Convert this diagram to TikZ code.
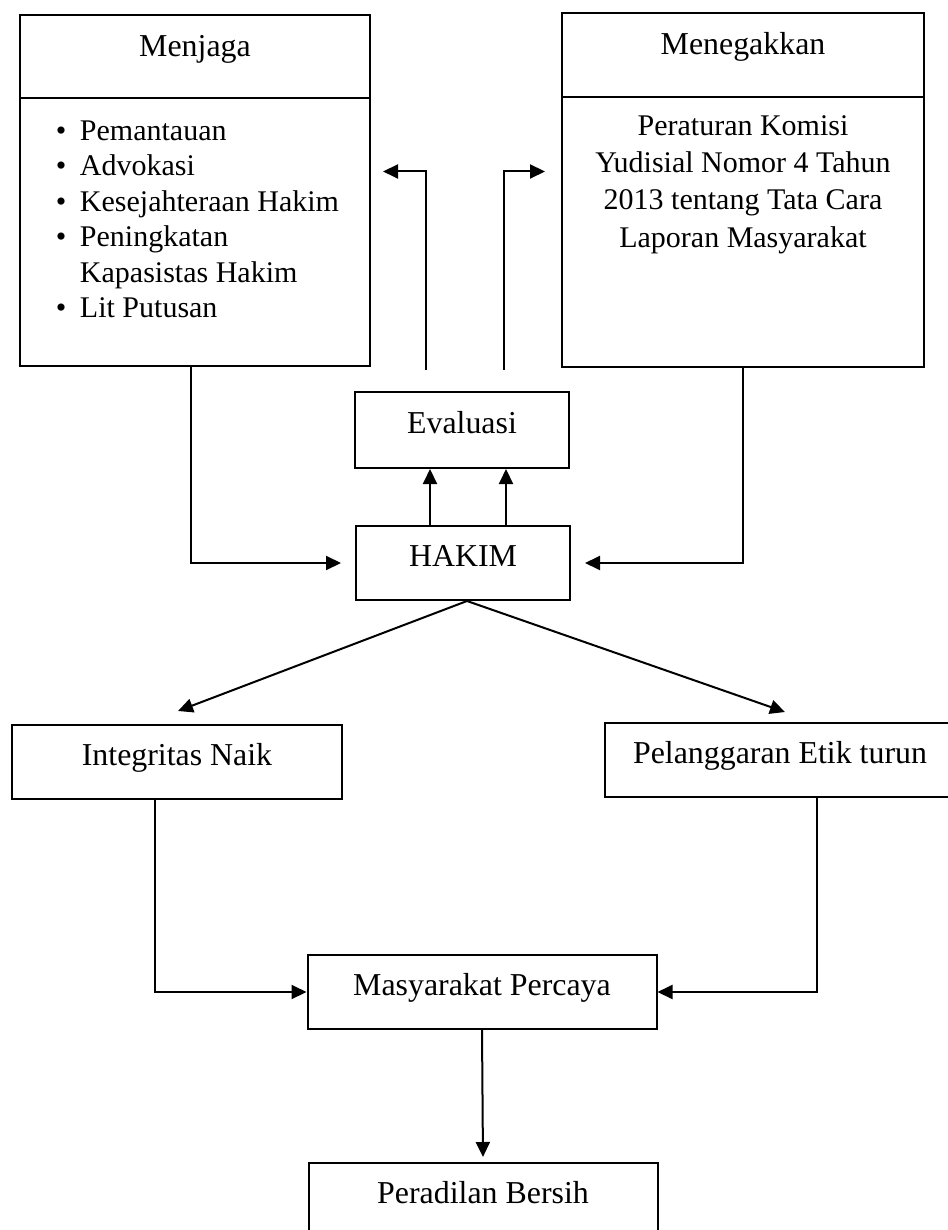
\documentclass[tikz,border=0pt]{standalone}
\usepackage{fontspec}
\setmainfont{Liberation Serif}
\usepackage{tikz}
\usetikzlibrary{arrows.meta,positioning,calc}
\newcommand{\butir}[1]{\hspace*{14.4pt}\makebox[9.6pt][l]{\textbullet}#1}

\tikzset{
  kotak/.style={draw,line width=0.8pt,inner sep=0pt,text height=8.6pt,text depth=6pt,
    font=\fontsize{12.75}{15}\selectfont},
  judul/.style={kotak,text height=6pt,text depth=6pt},
  panah/.style={-{Triangle[length=6pt,width=5.6pt]},line width=0.8pt},
}

\begin{document}
\begin{tikzpicture}[x=0.4pt,y=-0.4pt]
  \useasboundingbox (0,0) rectangle (947,1230);

  % Menjaga
  \node[judul,minimum width=140pt,minimum height=33.2pt] (jagajudul) at (195,56.5) {Menjaga};
  \node[kotak,minimum width=140pt,minimum height=107.2pt,
        text height=17pt,text depth=90.2pt] (jagaisi) at (195,232)
    {\parbox[t]{140pt}{\raggedright\fontsize{12}{14.16}\selectfont
      \butir{Pemantauan}\\
      \butir{Advokasi}\\
      \butir{Kesejahteraan Hakim}\\
      \butir{Peningkatan}\\
      \hspace*{24pt}Kapasistas Hakim\\
      \butir{Lit Putusan}}};

  % Menegakkan
  \node[judul,minimum width=144.8pt,minimum height=33.6pt] (tegakjudul) at (743,55) {Menegakkan};
  \node[kotak,minimum width=144.8pt,minimum height=108pt,
        text height=15.4pt,text depth=92.6pt] (tegakisi) at (743,232)
    {\parbox[t]{144.8pt}{\centering\fontsize{12}{14.9}\selectfont
      Peraturan Komisi\\
      Yudisial Nomor 4 Tahun\\
      2013 tentang Tata Cara\\
      Laporan Masyarakat}};

  % tengah
  \node[kotak,minimum width=85.6pt,minimum height=30.4pt] (evaluasi) at (462,430) {Evaluasi};
  \node[kotak,minimum width=85.6pt,minimum height=29.6pt] (hakim) at (463,563) {HAKIM};

  % hasil
  \node[kotak,minimum width=132pt,minimum height=29.6pt] (integritas) at (177,762) {Integritas Naik};
  \node[kotak,minimum width=140pt,minimum height=29.6pt] (langgar) at (780,760) {Pelanggaran Etik turun};
  \node[kotak,minimum width=139.6pt,minimum height=29.6pt] (percaya) at (482,992) {Masyarakat Percaya};
  \node[kotak,minimum width=139.6pt,minimum height=29.6pt] (bersih) at (483,1200) {Peradilan Bersih};

  % umpan balik dari evaluasi
  \coordinate (pangkalkiri) at (426,370);
  \coordinate (ujungkiri) at (383,171.5);
  \coordinate (pangkalkanan) at (504,370);
  \coordinate (ujungkanan) at (545,171.5);
  \draw[panah] (pangkalkiri) |- (ujungkiri);
  \draw[panah] (pangkalkanan) |- (ujungkanan);

  % ke HAKIM
  \draw[panah,shorten >=5.6pt] ([xshift=-1.6pt]jagaisi.south) |- (hakim.west);
  \draw[panah,shorten >=5.6pt] (tegakisi.south) |- (hakim.east);
  \draw[panah] ([xshift=-13.2pt]hakim.north) -- ([xshift=-13.2pt]hakim.north |- evaluasi.south);
  \draw[panah] ([xshift=17.2pt]hakim.north) -- ([xshift=17.2pt]hakim.north |- evaluasi.south);

  % dari HAKIM
  \draw[panah] ([xshift=1.6pt]hakim.south) -- ($(integritas.north)+(1,-13)$);
  \draw[panah] ([xshift=1.6pt]hakim.south) -- ($(langgar.north)+(5,-10)$);

  % ke masyarakat
  \draw[panah] ([xshift=-8.8pt]integritas.south) |- (percaya.west);
  \draw[panah] ([xshift=14.8pt]langgar.south) |- (percaya.east);
  \draw[panah,shorten >=2pt] (percaya.south) -- (bersih.north);
\end{tikzpicture}
\end{document}
